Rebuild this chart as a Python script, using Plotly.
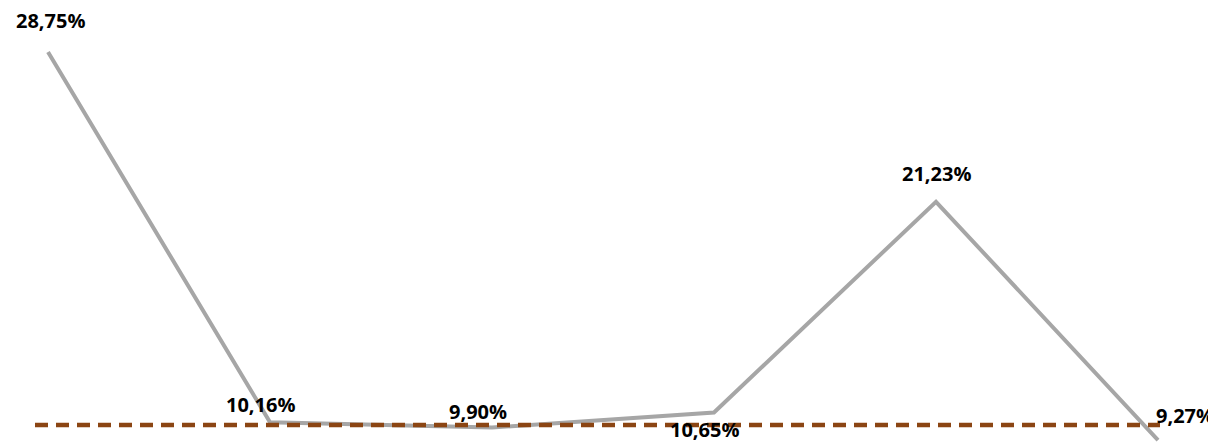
import plotly.graph_objects as go

categories = [0, 1, 2, 3, 4, 5]
values = [28.75, 10.16, 9.90, 10.65, 21.23, 9.27]
labels = ["28,75%", "10,16%", "9,90%", "10,65%", "21,23%", "9,27%"]
reference_value = 10.03

# label pixel offsets (style only)
label_dx = [2, -10, -14, -10, 0, 27]
label_dy = [32, 18, 16, -17, 28, 25]

fig = go.Figure()
fig.add_trace(go.Scatter(
    x=categories, y=values, mode="lines",
    line=dict(color="#A6A6A6", width=4),
    cliponaxis=False, showlegend=False, hoverinfo="skip",
))
fig.add_shape(type="line", xref="paper", x0=0, x1=1, yref="y",
              y0=reference_value, y1=reference_value,
              line=dict(color="#8B4513", width=4.5, dash="13px,8px"), layer="above")

for xv, yv, t, dx, dy in zip(categories, values, labels, label_dx, label_dy):
    fig.add_annotation(x=xv, y=yv, text=t, showarrow=False,
                       xshift=dx, yshift=dy, xanchor="center", yanchor="middle",
                       borderpad=0,
                       font=dict(family="Open Sans", size=20, color="#000000", weight="bold"))

fig.update_layout(
    width=1208, height=436,
    margin=dict(l=27, r=56, t=0, b=0),
    plot_bgcolor="white", paper_bgcolor="white",
    xaxis=dict(range=[-0.0586, 5.009], visible=False),
    yaxis=dict(range=[9.07, 30.96], visible=False),
)
fig.write_html("out.html")
